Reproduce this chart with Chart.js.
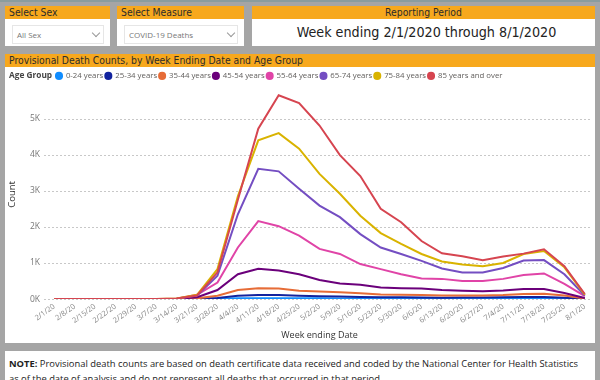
<!DOCTYPE html>
<html>
<head>
<meta charset="utf-8">
<script src="https://cdn.jsdelivr.net/npm/chart.js@4"></script>
<style>
  html,body{margin:0;padding:0;}
  body{width:600px;height:380px;overflow:hidden;position:relative;background:#a5a5a5;font-family:"Open Sans","Noto Sans",sans-serif;}
  .abs{position:absolute;}
  .hdr{background:#f7a81d;color:#2b2b2b;font-family:"DejaVu Sans Condensed","Roboto",sans-serif;font-size:10.3px;line-height:13px;height:13px;white-space:nowrap;overflow:hidden;}
  .body{background:#fff;}
  .dd{position:absolute;border:1px solid #e6e6e6;background:#fff;height:17px;}
  .dd span{position:absolute;left:4px;top:2px;font-size:8px;color:#777;line-height:13px;}
  .chev{position:absolute;top:4px;width:5px;height:5px;border-right:1px solid #999;border-bottom:1px solid #999;transform:rotate(45deg);}
  #topline{left:0;top:0;width:600px;height:2px;background:#8a9c9e;}
</style>
</head>
<body>
<div id="topline" class="abs"></div>

<div class="abs hdr" style="left:5px;top:6px;width:101px;padding-left:4px;">Select Sex</div>
<div class="abs body" style="left:5px;top:19px;width:105px;height:27px;">
  <div class="dd" style="left:7px;top:6px;width:90px;"><span>All Sex</span><div class="chev" style="left:80px;"></div></div>
</div>

<div class="abs hdr" style="left:117px;top:6px;width:123px;padding-left:4px;">Select Measure</div>
<div class="abs body" style="left:117px;top:19px;width:127px;height:27px;">
  <div class="dd" style="left:7px;top:6px;width:112px;"><span>COVID-19 Deaths</span><div class="chev" style="left:103px;"></div></div>
</div>

<div class="abs hdr" style="left:252px;top:6px;width:343px;text-align:center;">Reporting Period</div>
<div class="abs body" style="left:252px;top:19px;width:343px;height:27px;">
  <div style="position:absolute;left:3px;top:4px;width:343px;text-align:center;font-family:'DejaVu Sans Condensed','Roboto',sans-serif;font-size:14.2px;line-height:18px;color:#222;">Week ending 2/1/2020 through 8/1/2020</div>
</div>

<div class="abs hdr" style="left:5px;top:54px;width:586px;padding-left:4px;">Provisional Death Counts, by Week Ending Date and Age Group</div>
<div class="abs body" style="left:5px;top:67px;width:590px;height:276px;">
  <canvas id="c" width="590" height="276" style="position:absolute;left:0;top:0;"></canvas>
</div>

<div class="abs body" style="left:5px;top:351px;width:590px;height:40px;">
  <div style="position:absolute;left:4px;top:5px;width:586px;font-size:9.4px;line-height:15px;color:#222;white-space:nowrap;"><b>NOTE:</b> Provisional death counts are based on death certificate data received and coded by the National Center for Health Statistics<br>as of the date of analysis and do not represent all deaths that occurred in that period.</div>
</div>

<script>
const weeks = ["2/1/20","2/8/20","2/15/20","2/22/20","2/29/20","3/7/20","3/14/20","3/21/20","3/28/20","4/4/20","4/11/20","4/18/20","4/25/20","5/2/20","5/9/20","5/16/20","5/23/20","5/30/20","6/6/20","6/13/20","6/20/20","6/27/20","7/4/20","7/11/20","7/18/20","7/25/20","8/1/20"];
const ageGroups = ["0-24 years","25-34 years","35-44 years","45-54 years","55-64 years","65-74 years","75-84 years","85 years and over"];
const colors = ["#118DFF","#12239E","#E66C37","#6B007B","#E044A7","#744EC2","#D9B300","#D64550"];
const age0_24  = [0,0,0,0,0,0,0,3,8,20,25,25,22,20,18,16,15,15,14,14,15,15,16,18,18,12,2];
const age25_34 = [0,0,0,0,0,0,1,8,30,90,110,110,90,80,70,60,50,50,45,40,45,45,50,60,60,40,5];
const age35_44 = [0,0,0,0,0,0,2,20,90,250,300,290,230,210,190,160,130,120,110,100,100,100,110,140,150,100,15];
const age45_54 = [0,0,0,0,0,0,4,50,250,690,840,790,690,530,430,400,320,300,290,250,230,220,240,280,280,170,30];
const age55_64 = [0,0,0,0,0,1,8,120,460,1430,2160,2020,1760,1390,1250,970,830,690,570,560,500,500,560,670,710,420,80];
const age65_74 = [0,0,0,0,0,1,12,100,650,2350,3610,3540,3060,2590,2270,1800,1430,1250,1060,850,740,740,860,1070,1080,690,100];
const age75_84 = [0,0,0,0,0,2,15,120,830,2850,4400,4600,4170,3470,2920,2310,1830,1530,1250,1040,960,910,1000,1250,1330,880,120];
const age85up  = [0,0,0,0,0,2,15,100,740,2750,4720,5650,5430,4810,3990,3410,2500,2130,1610,1270,1190,1080,1180,1260,1380,910,140];
const series = [age0_24,age25_34,age35_44,age45_54,age55_64,age65_74,age75_84,age85up];
const yTicks = [0,1000,2000,3000,4000,5000];
const yTickLabels = ["0K","1K","2K","3K","4K","5K"];
const yMax = 5800;

const FONT = "'Open Sans','Noto Sans',sans-serif";

const ageTitle = {
  id:'ageTitle',
  afterLayout(chart){
    const lg = chart.legend;
    lg.left = 51 - lg.options.labels.padding;
  },
  beforeDatasetsDraw(chart){
    // dotted horizontal grid lines at the y scale's ticks
    const ctx = chart.ctx, y = chart.scales.y, area = chart.chartArea;
    ctx.save();
    ctx.strokeStyle = '#c8c8c8';
    ctx.lineWidth = 1;
    ctx.setLineDash([2,2]);
    const x0 = Math.round(area.left), x1 = Math.round(area.right) - 3;
    y.ticks.forEach(t=>{
      const py = Math.round(y.getPixelForValue(t.value)) + 0.5;
      ctx.beginPath();
      ctx.moveTo(x0, py);
      ctx.lineTo(x1, py);
      ctx.stroke();
    });
    ctx.restore();
  },
  afterDraw(chart){
    const ctx = chart.ctx;
    ctx.save();
    ctx.font = "bold 8.3px " + FONT;
    ctx.fillStyle = '#444';
    ctx.textBaseline = 'middle';
    ctx.textAlign = 'left';
    const hb = chart.legend.legendHitBoxes[0];
    ctx.fillText('Age Group', 4, hb.top + hb.height/2);
    ctx.restore();
  }
};

new Chart(document.getElementById('c'), {
  type:'line',
  data:{
    labels: weeks,
    datasets: ageGroups.map((g,i)=>({
      label:g, data:series[i], borderColor:colors[i], backgroundColor:colors[i],
      borderWidth:2, pointRadius:0, tension:0, order:7-i
    }))
  },
  options:{
    responsive:false, animation:false, devicePixelRatio:1,
    layout:{padding:{left:2,right:0,top:3,bottom:0}},
    plugins:{
      legend:{position:'top', align:'start',
        labels:{usePointStyle:true, pointStyle:'circle', boxWidth:6, boxHeight:4.3, padding:2,
          sort:(a,b)=>a.datasetIndex-b.datasetIndex,
          color:'#605e5c', font:{family:FONT, size:7.8}}},
      tooltip:{enabled:false}
    },
    scales:{
      x:{offset:true,
        grid:{display:false, drawTicks:false}, border:{display:false},
        ticks:{color:'#888', font:{family:FONT, size:7.5}, maxRotation:36, minRotation:36, autoSkip:false, padding:3},
        title:{display:true, text:'Week ending Date', color:'#333', font:{family:FONT, size:9}, padding:{top:2,bottom:2}}
      },
      y:{min:0, max:yMax,
        afterBuildTicks(s){ s.ticks = yTicks.map(v=>({value:v})); },
        afterFit(s){ s.width = 37; },
        grid:{display:false, drawTicks:false},
        border:{display:false},
        ticks:{autoSkip:false, callback:(v)=>yTickLabels[yTicks.indexOf(v)], color:'#777', font:{family:FONT, size:8.5}, padding:4},
        title:{display:true, text:'Count', color:'#333', font:{family:FONT, size:9.5}, padding:0}
      }
    }
  },
  plugins:[ageTitle]
});
</script>
</body>
</html>
